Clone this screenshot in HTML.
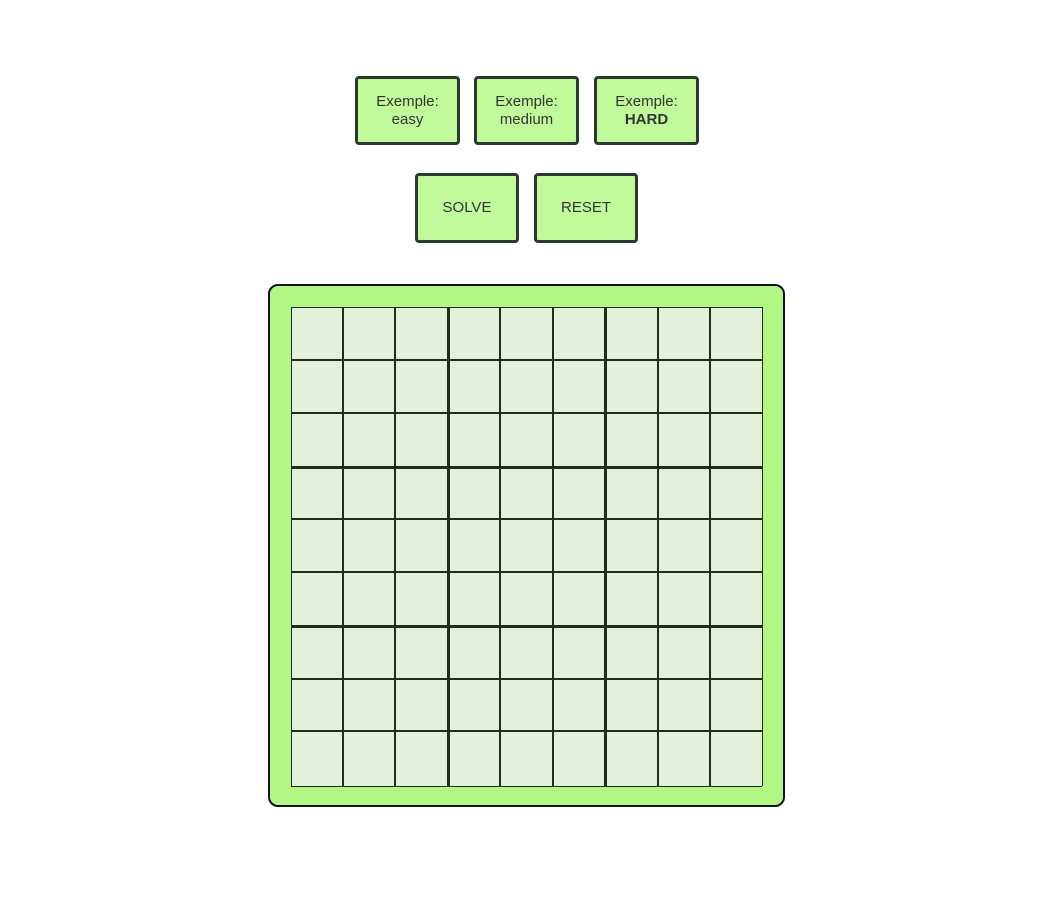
<!DOCTYPE html>
<html><head><meta charset="utf-8"><style>
body{margin:0;width:1044px;height:904px;background:#fff;font-family:"Liberation Sans",sans-serif;position:relative;overflow:hidden}
.btn{position:absolute;box-sizing:border-box;background:#c0fa9a;border:3px solid #2b3a2b;border-radius:4px;color:#333;font-size:15px;display:flex;flex-direction:column;align-items:center;justify-content:center;line-height:18px;text-align:center}
#board{position:absolute;left:268px;top:284px;width:517px;height:523px;box-sizing:border-box;background:#b2f784;border:2px solid #111;border-radius:10px}
.cell{position:absolute;background:#e3f0da;box-sizing:border-box}
.ln{position:absolute;background:#1f2e1a}
</style></head><body>
<div class="btn" style="left:355px;top:76px;width:105px;height:69px">Exemple:<span>easy</span></div>
<div class="btn" style="left:474px;top:76px;width:105px;height:69px">Exemple:<span>medium</span></div>
<div class="btn" style="left:594px;top:76px;width:105px;height:69px">Exemple:<b>HARD</b></div>
<div class="btn" style="left:415px;top:173px;width:104px;height:70px">SOLVE</div>
<div class="btn" style="left:534px;top:173px;width:104px;height:70px">RESET</div>
<div id="board"></div>
<script>
const xs=[291,343,395,448,500,553,605,658,710,762];
const ys=[307,360,413,467,519,572,626,679,731,786];
const b=document.getElementById('board');
const ox=270,oy=286;
for(let r=0;r<9;r++)for(let c=0;c<9;c++){
 const d=document.createElement('div');d.className='cell';
 
 
 d.style.left=(xs[c]-ox)+'px';d.style.top=(ys[r]-oy)+'px';
 d.style.width=(xs[c+1]-xs[c])+'px';d.style.height=(ys[r+1]-ys[r])+'px';
 b.appendChild(d);
}
for(let i=0;i<10;i++){
 const w=(i%3===0&&i>0&&i<9)?3:(i===0||i===9?1:2);
 const v=document.createElement('div');v.className='ln';
 
 
 v.style.left=(xs[i]-ox-Math.floor(w/2))+'px';v.style.top=(ys[0]-oy)+'px';v.style.width=w+'px';v.style.height=(ys[9]-ys[0])+'px';
 b.appendChild(v);
 const h=document.createElement('div');h.className='ln';
 
 
 h.style.top=(ys[i]-oy-Math.floor(w/2))+'px';h.style.left=(xs[0]-ox)+'px';h.style.height=w+'px';h.style.width=(xs[9]-xs[0])+'px';
 b.appendChild(h);
}
</script>
</body></html>
